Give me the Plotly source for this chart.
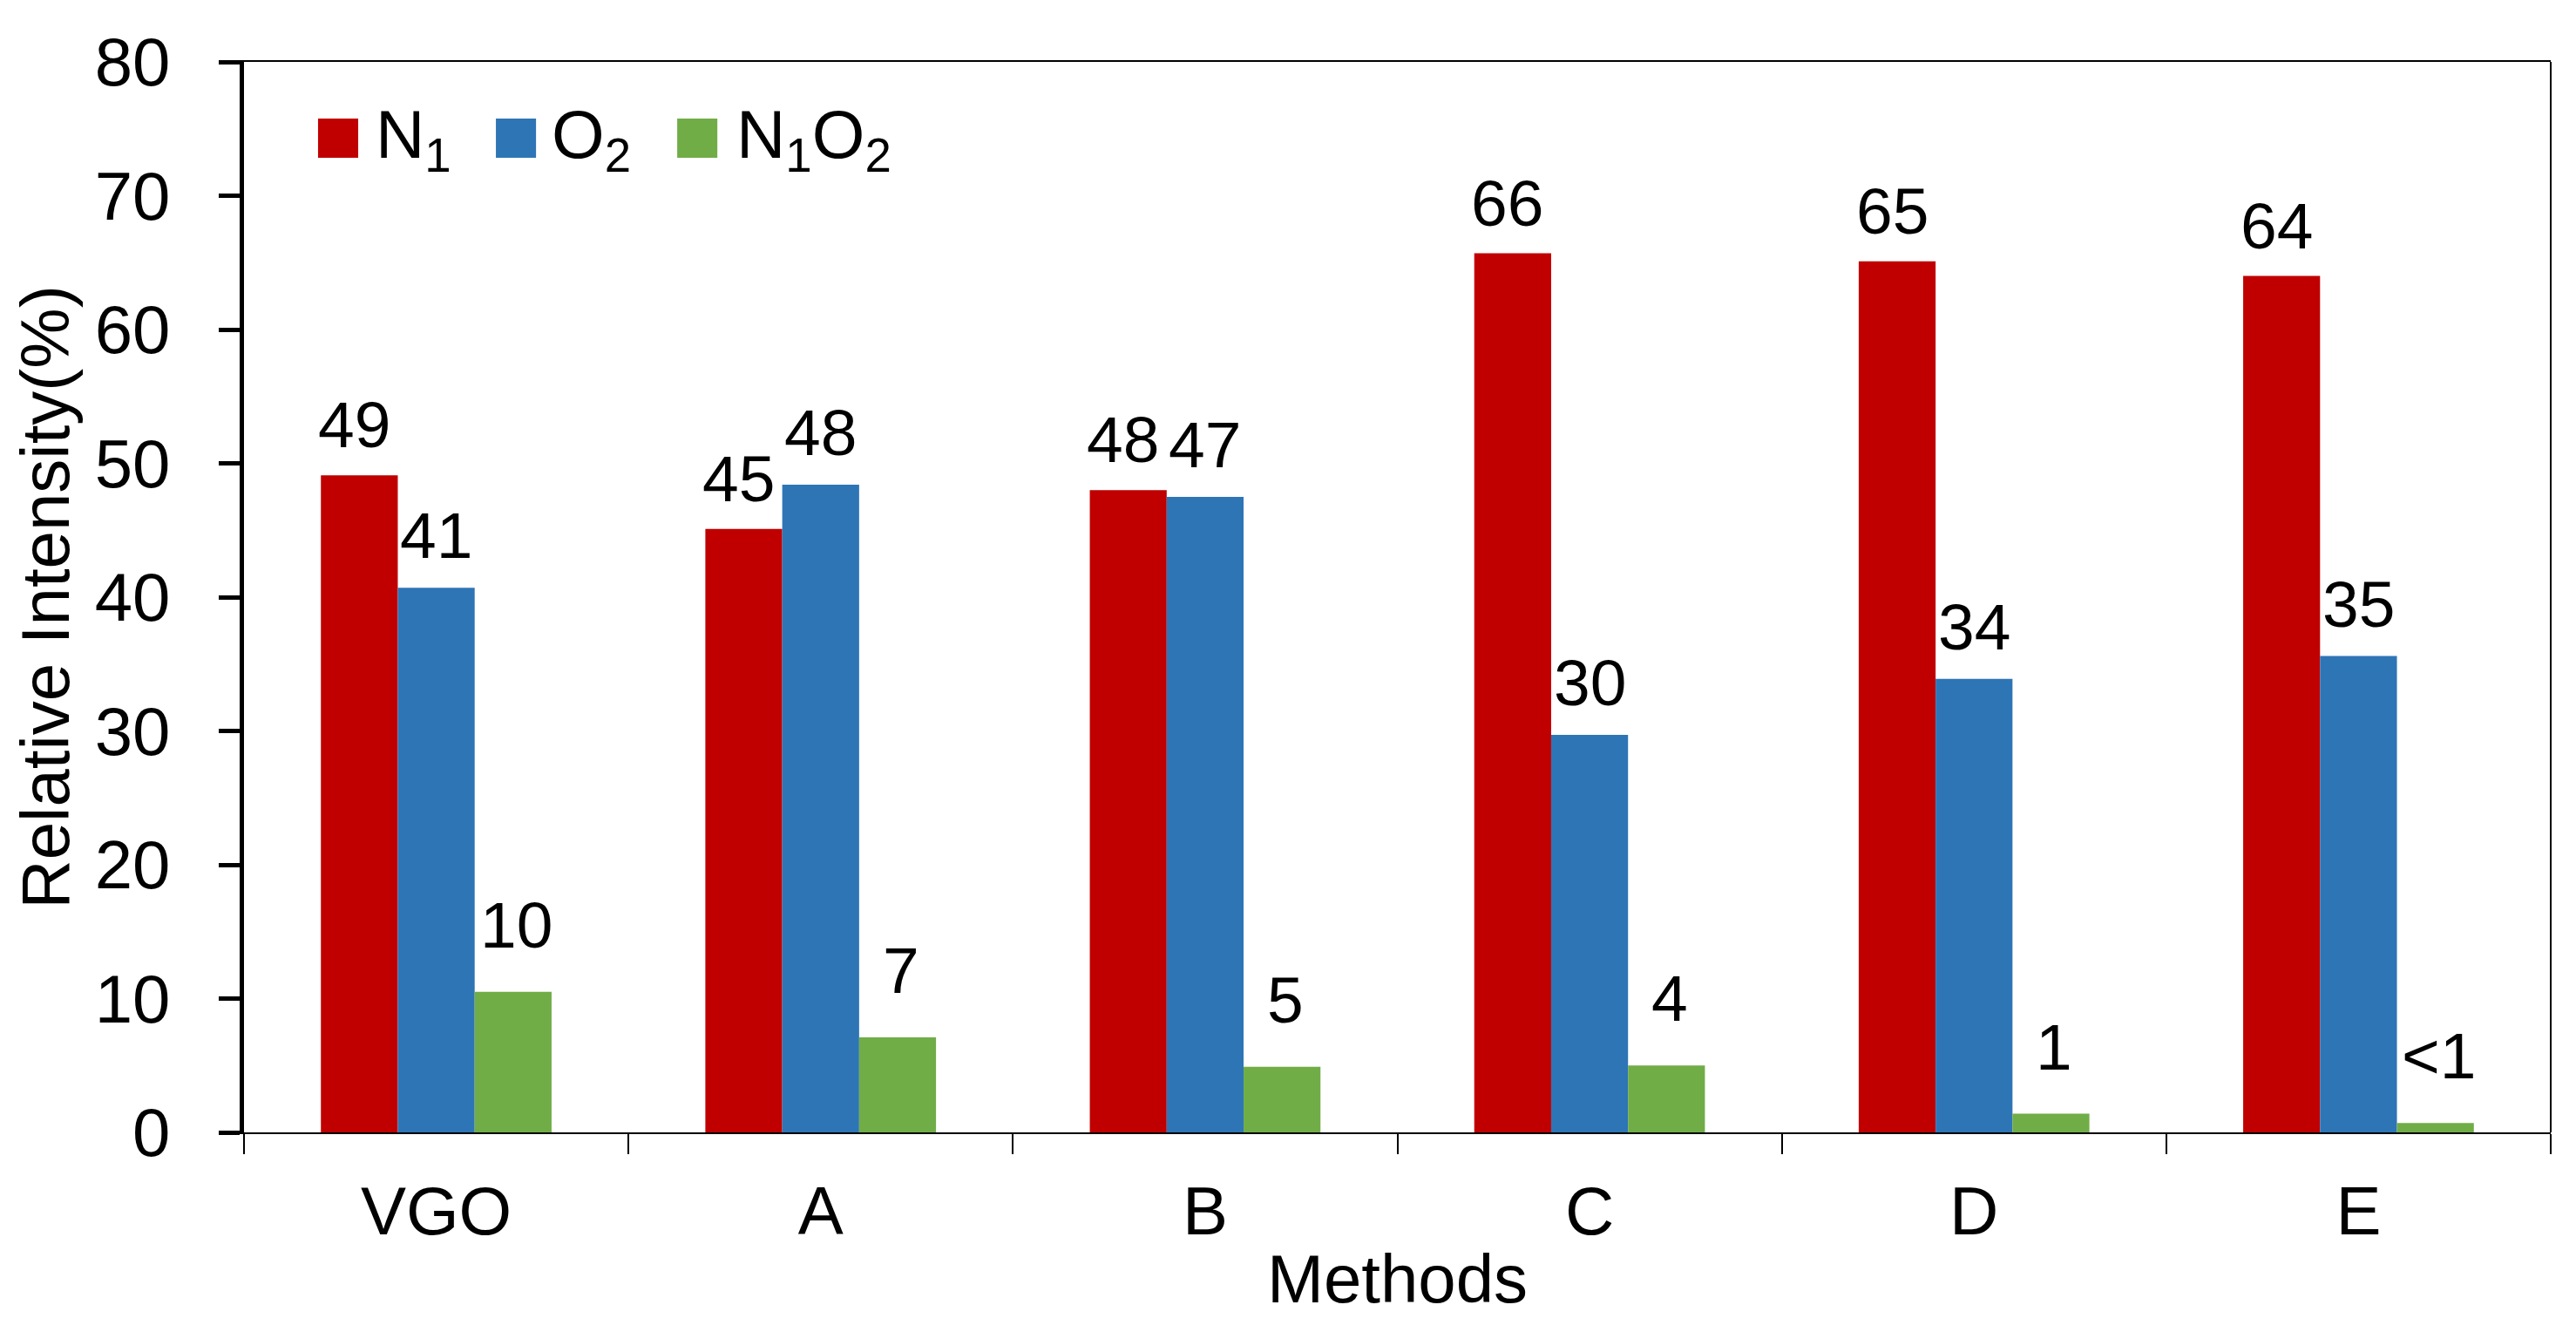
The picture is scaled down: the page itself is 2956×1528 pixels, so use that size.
import plotly.graph_objects as go

# ---------------- data ----------------
categories = ["VGO", "A", "B", "C", "D", "E"]
series_names = ["N1", "O2", "N1O2"]
legend_labels = ["N<sub>1</sub>", "O<sub>2</sub>", "N<sub>1</sub>O<sub>2</sub>"]
n1_values = [49.1, 45.1, 48.0, 65.7, 65.1, 64.0]
o2_values = [40.7, 48.4, 47.5, 29.7, 33.9, 35.6]
n1o2_values = [10.5, 7.1, 4.9, 5.0, 1.4, 0.7]
n1_labels = ["49", "45", "48", "66", "65", "64"]
o2_labels = ["41", "48", "47", "30", "34", "35"]
n1o2_labels = ["10", "7", "5", "4", "1", "<1"]
y_ticks = [0, 10, 20, 30, 40, 50, 60, 70, 80]

values = [n1_values, o2_values, n1o2_values]
labels = [n1_labels, o2_labels, n1o2_labels]

# ---------------- style ----------------
colors = ["#C00000", "#2E75B6", "#70AD47"]
label_lift = [58, 60, 77]
label_nudge = [-6, 0, 4]
FONT = "Liberation Sans, Arial, sans-serif"
FS = 78
LFS = 75
W, H = 2956, 1528
ML, MR, MT, MB = 272, 37, 63, 237
BARGAP = 0.40

fig = go.Figure()
for name, vals, col in zip(series_names, values, colors):
    fig.add_trace(go.Bar(x=categories, y=vals, name=name,
                         marker=dict(color=col, line=dict(width=0)),
                         showlegend=False))

plot_w = W - ML - MR
bar_px = plot_w / len(categories) * (1 - BARGAP) / len(series_names)

annotations = []
for i, (vals, labs) in enumerate(zip(values, labels)):
    for c, v, t in zip(categories, vals, labs):
        annotations.append(dict(x=c, y=v, xref="x", yref="y", text=t,
                                showarrow=False, xanchor="center", yanchor="middle",
                                xshift=(i - 1) * bar_px + label_nudge[i],
                                yshift=label_lift[i],
                                font=dict(family=FONT, size=LFS, color="black")))

# custom legend (large squares)
leg_sq_x = [0.0321, 0.1092, 0.1878]
leg_txt_x = [0.0563, 0.1326, 0.2127]
sq_w = 0.0174
shapes = []
for i in range(3):
    shapes.append(dict(type="rect", xref="paper", yref="paper",
                       x0=leg_sq_x[i], x1=leg_sq_x[i] + sq_w, y0=0.9104, y1=0.9471,
                       fillcolor=colors[i], line=dict(width=0)))
    annotations.append(dict(x=leg_txt_x[i], y=0.9283, xref="paper", yref="paper",
                            text=legend_labels[i], showarrow=False,
                            xanchor="left", yanchor="middle",
                            font=dict(family=FONT, size=FS, color="black")))
# right border
shapes.append(dict(type="line", xref="paper", yref="paper", x0=1, x1=1, y0=0, y1=1,
                   line=dict(color="black", width=2)))

fig.update_layout(
    width=W, height=H,
    margin=dict(l=ML, r=MR, t=MT, b=MB, autoexpand=False),
    paper_bgcolor="white", plot_bgcolor="white",
    barmode="group", bargap=BARGAP, bargroupgap=0,
    font=dict(family=FONT, size=FS, color="black"),
    annotations=annotations, shapes=shapes,
    xaxis=dict(title=dict(text="Methods", font=dict(size=FS), standoff=8),
               showline=True, linecolor="black", linewidth=2, mirror=True,
               ticks="outside", tickson="boundaries", ticklen=23, tickwidth=2,
               tickcolor="black", showgrid=False, ticklabelstandoff=21,
               tickfont=dict(size=FS)),
    yaxis=dict(title=dict(text="Relative Intensity(%)", font=dict(size=FS), standoff=30),
               range=[0, 80], tickvals=y_ticks, showline=True, linecolor="black",
               linewidth=5, ticks="outside", ticklen=24, tickwidth=5, tickcolor="black",
               showgrid=False, zeroline=False, ticklabelstandoff=40,
               tickfont=dict(size=FS)),
)

fig.write_html("out.html")
